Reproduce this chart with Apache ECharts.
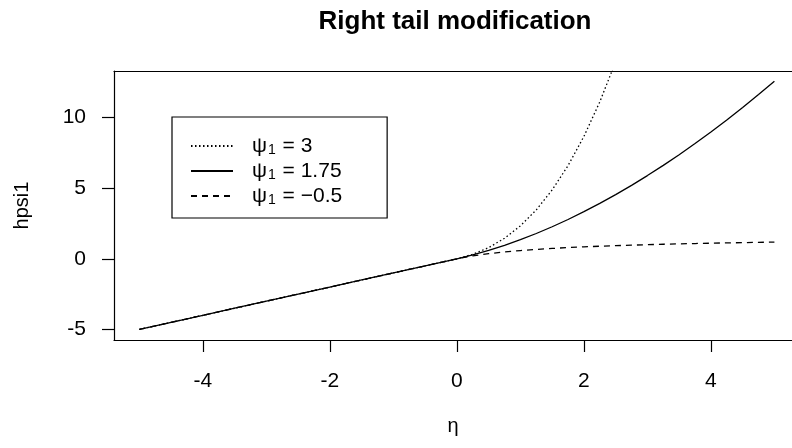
<!DOCTYPE html>
<html>
<head>
<meta charset="utf-8">
<script src="https://cdn.jsdelivr.net/npm/echarts@6/dist/echarts.min.js"></script>
<style>
  html, body { margin: 0; padding: 0; background: #ffffff; overflow: hidden; }
  #chart { width: 792px; height: 448px; }
</style>
</head>
<body>
<div id="chart"></div>
<script>
// ---- data ----
const eta = [-5, -4.5, -4, -3.5, -3, -2.5, -2, -1.5, -1, -0.5, 0,
  0.25, 0.5, 0.75, 1, 1.25, 1.5, 1.75, 2, 2.25, 2.5, 2.75, 3, 3.25, 3.5, 3.75, 4, 4.25, 4.5, 4.75, 5];
const leftPart = [-5, -4.5, -4, -3.5, -3, -2.5, -2, -1.5, -1, -0.5, 0];
const psi3 = leftPart.concat([0.318, 0.792, 1.453, 2.333, 3.464, 4.875, 6.599, 8.667, 11.11, 13.96, 17.24,
  null, null, null, null, null, null, null, null, null]);
const psi175 = leftPart.concat([0.273, 0.590, 0.950, 1.351, 1.791, 2.269, 2.784, 3.336, 3.924, 4.547,
  5.203, 5.894, 6.617, 7.374, 8.162, 8.984, 9.833, 10.717, 11.630, 12.573]);
const psiM05 = leftPart.concat([0.211, 0.367, 0.488, 0.586, 0.667, 0.735, 0.794, 0.845, 0.891, 0.931,
  0.967, 1.000, 1.030, 1.057, 1.082, 1.106, 1.127, 1.147, 1.166, 1.184]);
const xTicks = [-4, -2, 0, 2, 4];
const yTicks = [-5, 0, 5, 10];
const xRange = [-5.4, 5.277];   // the plot box is cut by the right image edge
const yRange = [-5.75, 13.3];
const seriesNames = ['psi3', 'psi175', 'psiM05'];
const legendValues = {psi3: '3', psi175: '1.75', psiM05: '\u22120.5'};
const titleText = 'Right tail modification';
const xName = '\u03b7';
const yName = 'hpsi1';

function pairs(ys) {
  return eta.map((x, i) => [x, ys[i]]);
}

const FONT = 'Liberation Sans, Arial, sans-serif';
const chart = echarts.init(document.getElementById('chart'), null, {renderer: 'canvas'});

const lineBase = {
  type: 'line',
  symbol: 'none',
  showSymbol: false,
  connectNulls: false,
  clip: true,
  silent: true,
  animation: false,
  color: '#000'
};
const axisLineStyle = {color: '#000', width: 1.2};

chart.setOption({
  backgroundColor: '#ffffff',
  animation: false,
  title: {
    text: titleText,
    left: 450,
    top: 4,
    textAlign: 'center',
    textStyle: {fontFamily: FONT, fontWeight: 'bold', fontSize: 26, color: '#000'}
  },
  grid: {
    left: 114, top: 71, right: 0, bottom: 108,
    show: false,
    containLabel: false
  },
  xAxis: [{
    type: 'value',
    position: 'bottom',
    min: xRange[0], max: xRange[1],
    name: xName,
    nameLocation: 'middle',
    nameGap: 76,
    nameTextStyle: {fontFamily: FONT, fontSize: 20, color: '#000'},
    axisLine: {show: true, onZero: false, lineStyle: axisLineStyle},
    splitLine: {show: false},
    axisTick: {show: true, inside: false, length: 12, customValues: xTicks,
      lineStyle: axisLineStyle},
    axisLabel: {customValues: xTicks, margin: 31, fontFamily: FONT, fontSize: 21, color: '#000',
      formatter: v => String(v)}
  }, {
    type: 'value',
    position: 'top',
    min: xRange[0], max: xRange[1],
    axisLine: {show: true, onZero: false, lineStyle: axisLineStyle},
    splitLine: {show: false},
    axisTick: {show: false},
    axisLabel: {show: false}
  }],
  yAxis: {
    type: 'value',
    min: yRange[0], max: yRange[1],
    name: yName,
    nameLocation: 'middle',
    nameRotate: 90,
    nameGap: 82,
    nameTextStyle: {fontFamily: FONT, fontSize: 20, color: '#000'},
    axisLine: {show: true, onZero: false, lineStyle: axisLineStyle},
    splitLine: {show: false},
    axisTick: {show: true, inside: false, length: 12, customValues: yTicks,
      lineStyle: axisLineStyle},
    axisLabel: {customValues: yTicks, margin: 28, fontFamily: FONT, fontSize: 21, color: '#000',
      formatter: v => String(v)}
  },
  legend: {
    left: 172, top: 117,
    orient: 'vertical',
    data: seriesNames,
    backgroundColor: '#fff',
    borderColor: '#000',
    borderWidth: 1.2,
    borderRadius: 0,
    padding: [17, 45, 11, 18],
    itemWidth: 42,
    itemHeight: 14,
    itemGap: 2,
    selectedMode: false,
    itemStyle: {color: 'rgba(0,0,0,0)', borderWidth: 0, opacity: 0},
    formatter: name => '{gap|}{s|\u03c8}{sub|1}{s| = ' + legendValues[name] + '}',
    textStyle: {
      color: '#000',
      rich: {
        gap: {width: 14, lineHeight: 22},
        s: {fontFamily: FONT, fontSize: 21, color: '#000', lineHeight: 22, verticalAlign: 'bottom'},
        sub: {fontFamily: FONT, fontSize: 14, color: '#000', lineHeight: 13, verticalAlign: 'bottom',
          padding: [9, 1, 0, 1]}
      }
    }
  },
  series: [
    Object.assign({}, lineBase, {name: 'psi3', data: pairs(psi3),
      lineStyle: {color: '#000', width: 1.3, type: [1.5, 2.5]}}),
    Object.assign({}, lineBase, {name: 'psi175', data: pairs(psi175),
      lineStyle: {color: '#000', width: 1.3, type: 'solid'}}),
    Object.assign({}, lineBase, {name: 'psiM05', data: pairs(psiM05),
      lineStyle: {color: '#000', width: 1.3, type: [6, 5]}})
  ]
});
</script>
</body>
</html>
